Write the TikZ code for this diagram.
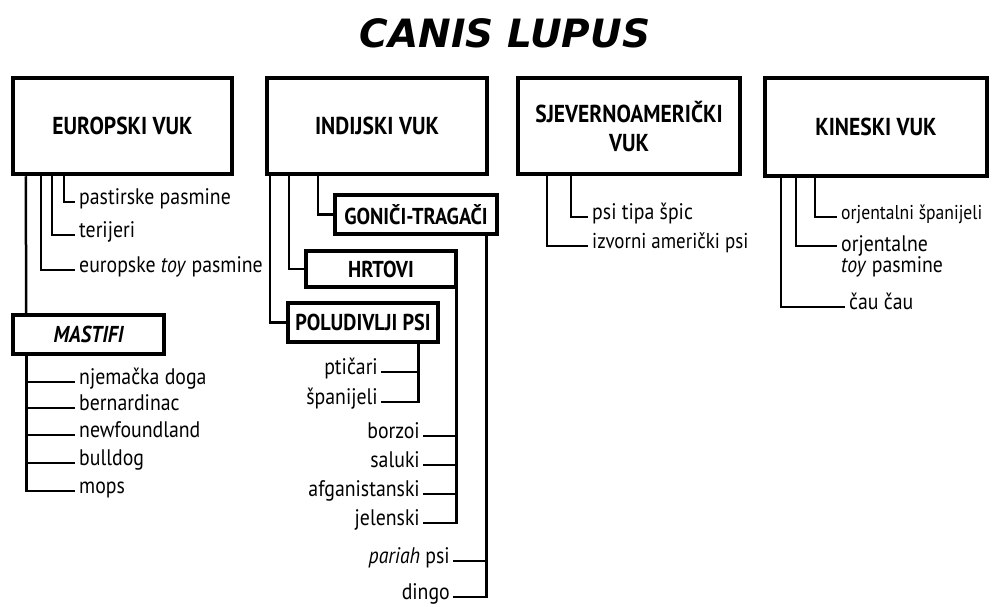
\documentclass[tikz,border=0pt]{standalone}
\usepackage{fontspec}
\setmainfont{PT Sans}[FakeStretch=0.88]
\newfontfamily\titlefont{DejaVu Sans}
\usetikzlibrary{calc}
\tikzset{
  mainbox/.style={draw, line width=4.5pt, font=\fontsize{24.5}{27}\selectfont\bfseries, align=center, inner sep=0pt},
  subbox/.style={draw, line width=3.5pt, font=\fontsize{23}{25}\selectfont\bfseries, inner sep=0pt},
  leafl/.style={anchor=west, inner xsep=4pt, inner ysep=0pt, text height=0.6em, text depth=0.1em, font=\fontsize{22.5}{24}\selectfont},
  leafr/.style={anchor=east, inner xsep=3pt, inner ysep=0pt, text height=0.6em, text depth=0.1em, font=\fontsize{22.5}{24}\selectfont},
  conn/.style={line width=2.5pt}
}
\begin{document}
\begin{tikzpicture}[x=1pt,y=-1pt]
\useasboundingbox (0,0) rectangle (995,607);
\node[font=\titlefont\fontsize{39}{42}\selectfont\bfseries\itshape] (title) at (505,33) {CANIS LUPUS};

% main boxes
\node[mainbox, minimum width=219pt, minimum height=96pt] (eu) at (122.5,126) {EUROPSKI VUK};
\node[mainbox, minimum width=220pt, minimum height=96pt] (in) at (377,126) {INDIJSKI VUK};
\node[mainbox, minimum width=222pt, minimum height=96pt] (na) at (629,126) {SJEVERNOAMERIČKI\\[2pt]VUK};
\node[mainbox, minimum width=222pt, minimum height=98pt] (ki) at (876,127) {KINESKI VUK};

% sub boxes
\node[subbox, minimum width=151pt, minimum height=39pt, font=\fontsize{23}{25}\selectfont\bfseries\itshape] (ma) at (88.5,334.5) {MASTIFI};
\node[subbox, minimum width=162pt, minimum height=39pt] (go) at (416,214.5) {GONIČI-TRAGAČI};
\node[subbox, minimum width=150pt, minimum height=36pt] (hr) at (381,269) {HRTOVI};
\node[subbox, minimum width=150pt, minimum height=39pt] (po) at (363,322.5) {POLUDIVLJI PSI};

% europski leaves
\node[leafl] (ps) at (75,202) {pastirske pasmine};
\node[leafl] (te) at (75,235) {terijeri};
\node[leafl] (et) at (75,270) {europske \textit{toy} pasmine};
\draw[conn] ([xshift=53pt]eu.south west) |- (ps.west);
\draw[conn] ([xshift=41pt]eu.south west) |- (te.west);
\draw[conn] ([xshift=30pt]eu.south west) |- (et.west);
\draw[conn] ([xshift=15pt]eu.south west) -- ([xshift=15pt]ma.north west);

% mastifi leaves
\node[leafl] (nd) at (75,382) {njemačka doga};
\node[leafl] (be) at (75,408) {bernardinac};
\node[leafl] (nf) at (75,435) {newfoundland};
\node[leafl] (bu) at (75,463) {bulldog};
\node[leafl] (mo) at (75,491) {mops};
\coordinate (mv) at ([xshift=15pt]ma.south west);
\draw[conn] (mv) |- (mo.west);
\draw[conn] (nd.west) -- (nd.west -| mv);
\draw[conn] (be.west) -- (be.west -| mv);
\draw[conn] (nf.west) -- (nf.west -| mv);
\draw[conn] (bu.west) -- (bu.west -| mv);

% indijski
\draw[conn] ([xshift=53pt]in.south west) |- (go.west);
\draw[conn] ([xshift=24pt]in.south west) |- (hr.west);
\draw[conn] ([xshift=5pt]in.south west) |- (po.west);

% poludivlji leaves
\node[leafr] (pt) at (381,372) {ptičari};
\node[leafr] (sp) at (381,402) {španijeli};
\coordinate (pv) at ([xshift=132pt]po.south west);
\draw[conn] (pv) |- (sp.east);
\draw[conn] (pt.east) -- (pt.east -| pv);

% hrtovi leaves
\node[leafr] (bo) at (423,436) {borzoi};
\node[leafr] (sa) at (423,465) {saluki};
\node[leafr] (af) at (423,494) {afganistanski};
\node[leafr] (je) at (423,523) {jelenski};
\coordinate (hv) at ([xshift=-1.5pt]hr.south east);
\draw[conn] (hv) |- (je.east);
\draw[conn] (bo.east) -- (bo.east -| hv);
\draw[conn] (sa.east) -- (sa.east -| hv);
\draw[conn] (af.east) -- (af.east -| hv);

% goniči leaves
\node[leafr] (pa) at (453,561) {\textit{pariah} psi};
\node[leafr] (di) at (453,597) {dingo};
\coordinate (gv) at ([xshift=-12.5pt]go.south east);
\draw[conn] (gv) |- (di.east);
\draw[conn] (pa.east) -- (pa.east -| gv);

% sjevernoamerički leaves
\node[leafl] (sd) at (588,217) {psi tipa špic};
\node[leafl, font=\fontsize{21.5}{24}\selectfont] (ia) at (588,246) {izvorni američki psi};
\draw[conn] ([xshift=55pt]na.south west) |- (sd.west);
\draw[conn] ([xshift=31pt]na.south west) |- (ia.west);

% kineski leaves
\node[leafl, font=\fontsize{20}{24}\selectfont] (os) at (837,217) {orjentalni španijeli};
\node[leafl, align=left, anchor=north west, text height=, text depth=] (ot) at (837,235) {orjentalne\\[-3pt]\textit{toy} pasmine};
\node[leafl] (cc) at (845,307) {čau čau};
\draw[conn] ([xshift=52pt]ki.south west) |- (os.west);
\draw[conn] ([xshift=33pt]ki.south west) |- ([yshift=-11pt]ot.north west);
\draw[conn] ([xshift=18pt]ki.south west) |- (cc.west);
\end{tikzpicture}
\end{document}
